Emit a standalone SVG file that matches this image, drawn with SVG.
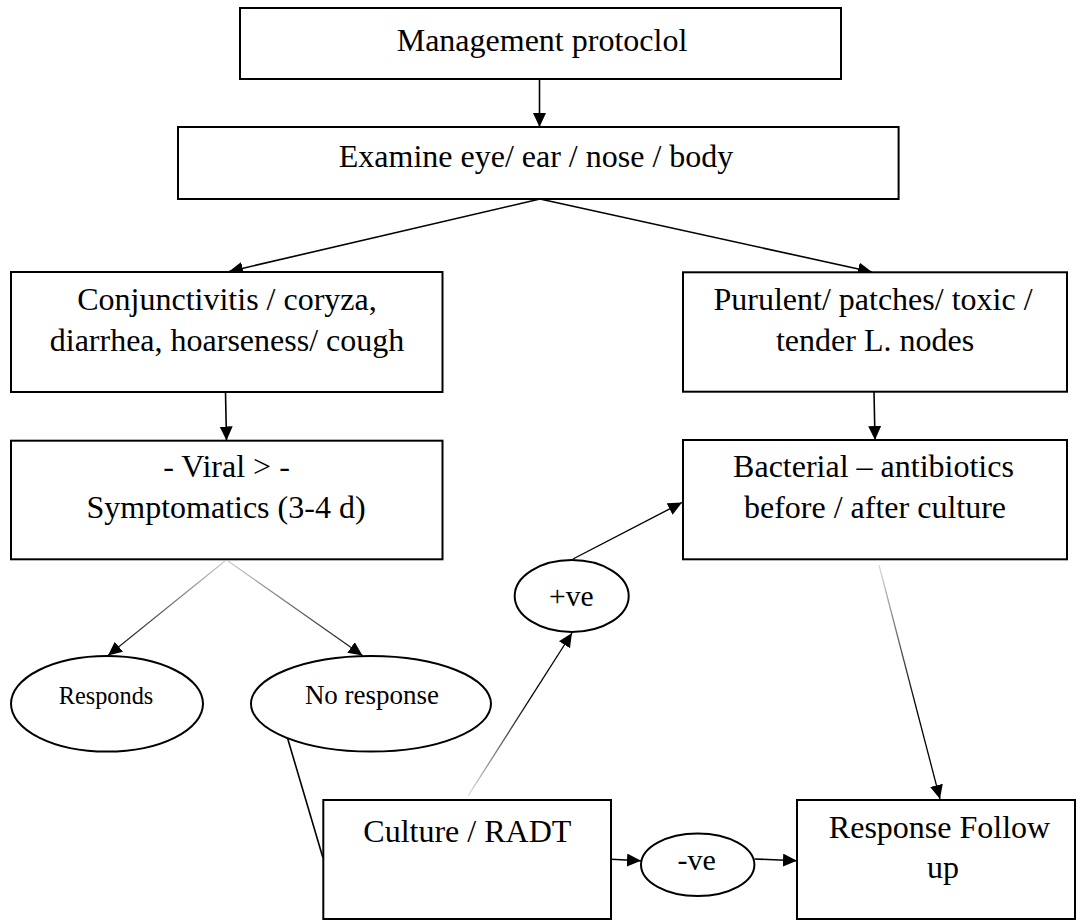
<svg xmlns="http://www.w3.org/2000/svg" width="1077" height="920" viewBox="0 0 1077 920">
<style>
.box{fill:#fff;stroke:#000;stroke-width:2}
.ell{fill:#fff;stroke:#000;stroke-width:2}
.t{font-family:"Liberation Serif","Times New Roman",serif;font-size:32px;fill:#000;text-anchor:middle}
.s{font-family:"Liberation Serif","Times New Roman",serif;fill:#000;text-anchor:middle}
.c{fill:none;stroke:#000;stroke-width:1.6}
</style>
<defs>
<marker id="ah" markerUnits="userSpaceOnUse" markerWidth="15" markerHeight="14" refX="14" refY="6.5" orient="auto">
<path d="M0,0 L14,6.5 L0,13 z" fill="#000"/>
</marker>
<linearGradient id="g6" gradientUnits="userSpaceOnUse" x1="225" y1="561" x2="108" y2="655"><stop offset="0" stop-color="#ccc"/><stop offset="1" stop-color="#000"/></linearGradient>
<linearGradient id="g7" gradientUnits="userSpaceOnUse" x1="228" y1="561" x2="362" y2="655"><stop offset="0" stop-color="#ccc"/><stop offset="1" stop-color="#000"/></linearGradient>
<linearGradient id="g9" gradientUnits="userSpaceOnUse" x1="468" y1="796" x2="572" y2="633"><stop offset="0" stop-color="#ddd"/><stop offset="0.6" stop-color="#000"/><stop offset="1" stop-color="#000"/></linearGradient>
<linearGradient id="g11" gradientUnits="userSpaceOnUse" x1="879" y1="565" x2="940" y2="799"><stop offset="0" stop-color="#ddd"/><stop offset="0.6" stop-color="#000"/><stop offset="1" stop-color="#000"/></linearGradient>
</defs>

<g id="connectors">
<line class="c" x1="539.5" y1="79" x2="539.5" y2="127" marker-end="url(#ah)"/>
<line class="c" x1="540" y1="199" x2="229" y2="271.5" marker-end="url(#ah)"/>
<line class="c" x1="540" y1="199" x2="872" y2="272" marker-end="url(#ah)"/>
<line class="c" x1="225.5" y1="392" x2="226.5" y2="440.5" marker-end="url(#ah)"/>
<line class="c" x1="874" y1="392" x2="875" y2="440" marker-end="url(#ah)"/>
<line x1="225" y1="561" x2="108" y2="655.5" stroke="url(#g6)" stroke-width="1.1" marker-end="url(#ah)"/>
<line x1="228" y1="561" x2="362.5" y2="655.5" stroke="url(#g7)" stroke-width="1.1" marker-end="url(#ah)"/>
<line class="c" x1="287.5" y1="738" x2="323" y2="858"/>
<line x1="468" y1="796" x2="572" y2="633" stroke="url(#g9)" stroke-width="1.3" marker-end="url(#ah)"/>
<line x1="573" y1="559" x2="682" y2="502.5" stroke="#000" stroke-width="1.4" marker-end="url(#ah)"/>
<line x1="879" y1="565" x2="940" y2="799" stroke="url(#g11)" stroke-width="1.3" marker-end="url(#ah)"/>
<line class="c" x1="611" y1="859.3" x2="641" y2="860.7" marker-end="url(#ah)"/>
<line class="c" x1="754.5" y1="859" x2="797" y2="860.7" marker-end="url(#ah)"/>
</g>

<g id="management">
<rect class="box" x="240" y="8" width="601" height="71"/>
<text class="t" x="542" y="50.7">Management protoclol</text>
</g>
<g id="examine">
<rect class="box" x="178" y="127" width="720.6" height="72"/>
<text class="t" x="536" y="166.7">Examine eye/ ear / nose / body</text>
</g>
<g id="conjunctivitis">
<rect class="box" x="11" y="272" width="431.5" height="120"/>
<text class="t" x="227" y="310">Conjunctivitis / coryza,</text>
<text class="t" x="227" y="350.7">diarrhea, hoarseness/ cough</text>
</g>
<g id="purulent">
<rect class="box" x="683" y="272.3" width="384" height="119.4"/>
<text class="t" x="873" y="310">Purulent/ patches/ toxic /</text>
<text class="t" x="875" y="350.7">tender L. nodes</text>
</g>
<g id="viral">
<rect class="box" x="11" y="440.7" width="431.5" height="118.6"/>
<text class="t" x="226.5" y="477.3">- Viral &gt; -</text>
<text class="t" x="226" y="518.3">Symptomatics (3-4 d)</text>
</g>
<g id="bacterial">
<rect class="box" x="683" y="440" width="384" height="119.3"/>
<text class="t" x="873.5" y="477.3">Bacterial – antibiotics</text>
<text class="t" x="875" y="518.3">before / after culture</text>
</g>
<g id="responds">
<ellipse class="ell" cx="107" cy="703.8" rx="96" ry="47.8"/>
<text class="s" x="106" y="704" font-size="24.3">Responds</text>
</g>
<g id="no-response">
<ellipse class="ell" cx="371" cy="703.8" rx="120" ry="47.8"/>
<text class="s" x="372" y="704" font-size="27">No response</text>
</g>
<g id="positive">
<ellipse class="ell" cx="571.7" cy="596" rx="57" ry="36"/>
<text class="s" x="571.3" y="606" font-size="29.5">+ve</text>
</g>
<g id="culture">
<rect class="box" x="323.3" y="800" width="287.7" height="119"/>
<text class="t" x="363.3" y="841.7" style="text-anchor:start">Culture / RADT</text>
</g>
<g id="negative">
<ellipse class="ell" cx="697.7" cy="864.7" rx="56.7" ry="31.3"/>
<text class="s" x="696.7" y="870" font-size="30">-ve</text>
</g>
<g id="response-follow-up">
<rect class="box" x="797" y="800" width="278" height="119"/>
<text class="t" x="939.5" y="838.3">Response Follow</text>
<text class="t" x="943" y="877.7">up</text>
</g>
</svg>
